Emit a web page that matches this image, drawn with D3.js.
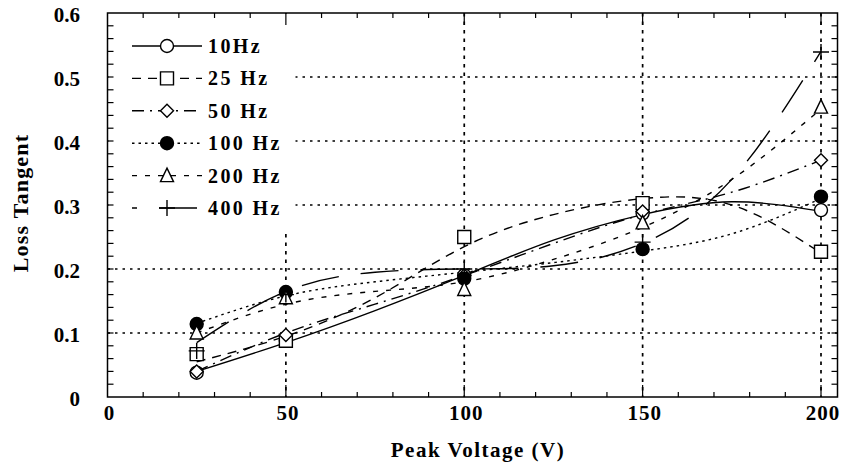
<!DOCTYPE html>
<html>
<head>
<meta charset="utf-8">
<script src="https://cdn.jsdelivr.net/npm/d3@7"></script>
<style>
  body { margin: 0; background: #fff; }
  svg text { font-family: "Liberation Serif", "Times New Roman", serif; font-weight: bold; fill: #000; }
</style>
</head>
<body>
<svg id="chart" width="841" height="466"></svg>
<script>
// Measured points (peak voltage vs loss tangent) for each frequency
const volts = [25, 50, 100, 150, 200];
const loss10 = [0.038, 0.088, 0.19, 0.287, 0.292];
const loss25 = [0.067, 0.088, 0.25, 0.303, 0.227];
const loss50 = [0.04, 0.097, 0.19, 0.29, 0.37];
const loss100 = [0.114, 0.164, 0.185, 0.231, 0.313];
const loss200 = [0.1, 0.155, 0.168, 0.272, 0.453];
const loss400 = [0.072, 0.16, 0.2, 0.242, 0.539];

// Fitted curves
const fitVolts = [25, 50, 75, 100, 125, 150, 175, 200];
const fit10 = [0.04, 0.085, 0.135, 0.19, 0.245, 0.285, 0.305, 0.29];
const fit25 = [0.055, 0.095, 0.155, 0.235, 0.285, 0.31, 0.3, 0.225];
const fit50 = [0.04, 0.1, 0.145, 0.19, 0.24, 0.285, 0.32, 0.37];
const fit100 = [0.115, 0.158, 0.18, 0.195, 0.21, 0.228, 0.255, 0.31];
const fit200 = [0.1, 0.145, 0.165, 0.18, 0.215, 0.265, 0.34, 0.45];
const fit400 = [0.085, 0.165, 0.195, 0.2, 0.205, 0.24, 0.34, 0.54];

const seriesNames = ["10Hz", "25 Hz", "50 Hz", "100 Hz", "200 Hz", "400 Hz"];
const xTicks = [0, 50, 100, 150, 200];
const yTicks = [0, 0.1, 0.2, 0.3, 0.4, 0.5, 0.6];

var svg = d3.select("#chart");

// plot frame edges
var pLeft = 107.5, pRight = 837.5, pTop = 13, pBottom = 397;

var x = d3.scaleLinear().domain([0, 200]).range([pLeft, 821]);
var y = d3.scaleLinear().domain([0, 0.6]).range([pBottom, pTop]);

// series styles
var styles = [
  { dash: null, offset: 0, marker: "circle", fill: "#fff" },
  { dash: "9,7", offset: 0, marker: "square", fill: "#fff" },
  { dash: "12,6,2,6", offset: 0, marker: "diamond", fill: "#fff" },
  { dash: "2.5,4", offset: 0, marker: "circle", fill: "#000" },
  { dash: "5,8", offset: 0, marker: "triangle", fill: "#fff" },
  { dash: "38,22", offset: 33, marker: "plus", fill: "none" }
];
var points = [loss10, loss25, loss50, loss100, loss200, loss400];
var fits = [fit10, fit25, fit50, fit100, fit200, fit400];

function markerPath(type) {
  if (type == "circle") return "M6.5,0A6.5,6.5 0 1,1 -6.5,0A6.5,6.5 0 1,1 6.5,0Z";
  if (type == "square") return "M-6.5,-6.5H6.5V6.5H-6.5Z";
  if (type == "diamond") return "M0,-6.5L6.5,0L0,6.5L-6.5,0Z";
  if (type == "triangle") return "M0,-7.5L6.5,6L-6.5,6Z";
  return "M-8,0H8M0,-8V8";
}

// Grid lines (dotted)
var grid = svg.append("g");
grid.selectAll("line.hgrid")
  .data([0.1, 0.2, 0.3, 0.4, 0.5])
  .enter()
  .append("line")
  .attr("x1", pLeft).attr("x2", pRight)
  .attr("y1", d => y(d)).attr("y2", d => y(d))
  .attr("stroke", "#000").attr("stroke-width", 1.7)
  .attr("stroke-dasharray", "2.5,5");
grid.selectAll("line.vgrid")
  .data([50, 100, 150, 200])
  .enter()
  .append("line")
  .attr("x1", d => x(d)).attr("x2", d => x(d))
  .attr("y1", pTop).attr("y2", pBottom)
  .attr("stroke", "#000").attr("stroke-width", 1.7)
  .attr("stroke-dasharray", "3.5,5");

// Fitted curves
var line = d3.line()
  .x((d, i) => x(fitVolts[i]))
  .y(d => y(d))
  .curve(d3.curveNatural);

svg.append("g")
  .selectAll("path")
  .data(fits)
  .enter()
  .append("path")
  .attr("d", d => line(d))
  .attr("fill", "none")
  .attr("stroke", "#000")
  .attr("stroke-width", 1.4)
  .attr("stroke-dasharray", (d, i) => styles[i].dash);

// Legend background hides the grid behind it
svg.append("rect")
  .attr("x", pLeft + 1).attr("y", pTop + 1)
  .attr("width", 187).attr("height", 218)
  .attr("fill", "#fff");

// Data markers
points.forEach(function(vals, s) {
  svg.append("g")
    .selectAll("path")
    .data(vals)
    .enter()
    .append("path")
    .attr("transform", (d, i) => `translate(${x(volts[i])},${y(d)})`)
    .attr("d", markerPath(styles[s].marker))
    .attr("fill", styles[s].fill)
    .attr("stroke", "#000")
    .attr("stroke-width", 1.4);
});

// Legend
var legend = svg.append("g");
seriesNames.forEach(function(name, i) {
  var ly = 46 + i * 32.4;
  legend.append("line")
    .attr("x1", 132).attr("x2", 202)
    .attr("y1", ly).attr("y2", ly)
    .attr("stroke", "#000").attr("stroke-width", 1.4)
    .attr("stroke-dasharray", styles[i].dash)
    .attr("stroke-dashoffset", styles[i].offset);
  legend.append("path")
    .attr("transform", `translate(167,${ly})`)
    .attr("d", markerPath(styles[i].marker))
    .attr("fill", styles[i].fill)
    .attr("stroke", "#000").attr("stroke-width", 1.4);
  legend.append("text")
    .attr("x", 208).attr("y", ly + 7)
    .style("font-size", "20px")
    .style("letter-spacing", "2.4px")
    .text(name);
});

// Frame
svg.append("rect")
  .attr("x", pLeft).attr("y", pTop)
  .attr("width", pRight - pLeft).attr("height", pBottom - pTop)
  .attr("fill", "none").attr("stroke", "#000").attr("stroke-width", 1.5);

// Inside ticks on all four sides
var xMinor = d3.range(10, 201, 10);
var yMinor = d3.range(1, 30).map(k => k * 0.02);
var ticks = svg.append("g").attr("stroke", "#000").attr("stroke-width", 1.2);
ticks.selectAll("line.xb")
  .data(xMinor).enter().append("line")
  .attr("x1", d => x(d)).attr("x2", d => x(d))
  .attr("y1", pBottom).attr("y2", d => pBottom - (d % 50 == 0 ? 12 : 5));
ticks.selectAll("line.xt")
  .data(xMinor).enter().append("line")
  .attr("x1", d => x(d)).attr("x2", d => x(d))
  .attr("y1", pTop).attr("y2", d => pTop + (d % 50 == 0 ? 12 : 5));
ticks.selectAll("line.yl")
  .data(yMinor).enter().append("line")
  .attr("x1", pLeft).attr("x2", pLeft + 6)
  .attr("y1", d => y(d)).attr("y2", d => y(d));
ticks.selectAll("line.yr")
  .data(yMinor).enter().append("line")
  .attr("x1", pRight).attr("x2", pRight - 6)
  .attr("y1", d => y(d)).attr("y2", d => y(d));

// Axis labels
svg.append("g")
  .selectAll("text")
  .data(xTicks).enter().append("text")
  .attr("x", d => x(d) + 2)
  .attr("y", 420)
  .attr("text-anchor", "middle")
  .style("font-size", "21px")
  .style("letter-spacing", "1px")
  .text(d => d);

svg.append("g")
  .selectAll("text")
  .data(yTicks).enter().append("text")
  .attr("x", 80)
  .attr("y", d => y(d) + 9)
  .attr("text-anchor", "end")
  .style("font-size", "21px")
  .text(d => d);

svg.append("text")
  .attr("x", 478).attr("y", 457)
  .attr("text-anchor", "middle")
  .style("font-size", "21px")
  .style("letter-spacing", "1.5px")
  .text("Peak Voltage (V)");

svg.append("text")
  .attr("transform", "translate(28,203) rotate(-90)")
  .attr("text-anchor", "middle")
  .style("font-size", "22px")
  .style("letter-spacing", "1.2px")
  .text("Loss Tangent");
</script>
</body>
</html>
